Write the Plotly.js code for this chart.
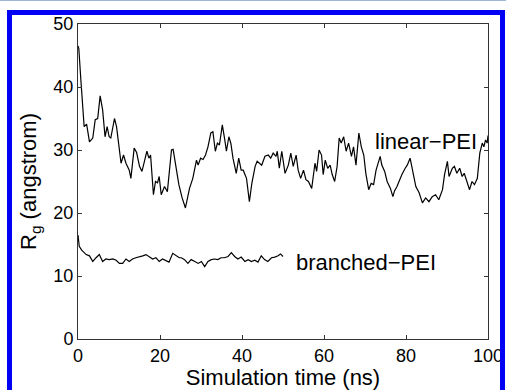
<!DOCTYPE html>
<html>
<head>
<meta charset="utf-8">
<script src="https://cdn.plot.ly/plotly-3.0.1.min.js"></script>
<style>
  html, body { margin: 0; padding: 0; background: #ffffff; overflow: hidden; }
  #wrap { position: relative; width: 506px; height: 390px; }
  #chart { position: absolute; left: 0; top: 0; width: 506px; height: 390px; }
  #topline { position: absolute; left: 0; top: 0; width: 506px; height: 1px; background: #9db8d6; pointer-events: none; }
  #frame { position: absolute; left: 7px; top: 10px; width: 498px; height: 400px; box-sizing: border-box;
           border: 5px solid #0000f5; border-bottom: none; pointer-events: none; }
</style>
</head>
<body>
<div id="wrap">
  <div id="chart"></div>
  <div id="topline"></div>
  <div id="frame"></div>
</div>
<script>
// Simulation time (ns) and radius of gyration (angstrom)
const tLinear = [
  0,0.2,0.7,1.5,2.1,2.8,3.6,4.2,4.8,5.4,
  6.0,6.6,7.1,7.6,8.0,8.9,9.4,10.5,11.1,11.7,
  12.5,12.9,13.7,14.3,15.0,15.6,16.2,16.8,17.3,17.7,
  18.4,18.9,19.4,19.8,20.3,21.1,21.8,22.8,23.2,23.7,
  24.6,25.4,26.2,27.2,28.0,28.9,29.3,29.9,30.5,31.1,
  31.7,32.4,32.9,33.5,34.0,34.5,35.2,35.8,36.2,36.8,
  37.3,37.8,38.6,39.2,39.8,40.3,41.1,41.8,42.4,43.2,
  43.7,44.8,45.6,46.4,47.0,47.6,48.3,48.6,49.1,49.7,
  50.5,51.3,51.9,52.5,53.2,53.7,54.3,55.0,55.6,56.2,
  57.0,57.8,58.2,58.8,59.4,59.8,60.3,60.9,61.5,62.0,
  62.6,63.2,63.7,64.2,64.8,65.4,66.0,66.7,67.2,67.8,
  68.5,69.1,69.7,70.2,70.9,71.5,72.1,72.7,73.3,73.7,
  74.1,74.8,75.4,76.2,76.8,77.2,77.8,78.4,79.0,79.8,
  80.3,81.0,81.5,82.4,83.2,84.0,84.8,85.6,86.4,87.2,
  88.0,88.9,89.4,90.1,90.5,91.3,91.8,92.4,93.1,93.7,
  94.2,94.9,95.5,96.1,96.7,97.4,98.0,98.6,99.0,99.4,
  99.8,100
];
const rgLinear = [
  46.5,46.1,41.1,33.7,34.1,31.3,31.9,34.8,35.0,38.6,
  36.4,32.1,33.7,32.1,31.9,35.0,33.7,27.9,29.2,27.9,
  26.8,25.5,30.3,29.6,27.4,26.6,28.2,29.8,28.7,29.2,
  22.9,25.0,24.8,25.8,22.9,24.2,23.4,30.0,30.1,27.9,
  24.5,22.4,20.8,23.9,25.5,28.4,27.6,28.7,28.5,29.2,
  30.5,32.7,32.9,29.8,31.1,30.8,34.0,31.6,29.8,32.1,
  31.0,28.7,26.3,28.7,26.8,26.8,25.5,21.8,24.7,27.4,
  28.2,27.6,29.0,29.2,28.7,29.5,29.0,29.8,27.1,29.8,
  26.3,27.6,29.5,27.4,29.2,26.8,25.5,26.8,25.3,25.0,
  23.9,27.9,26.6,30.0,29.2,26.1,28.4,27.1,27.6,26.1,
  25.0,27.4,31.9,31.1,32.1,29.8,31.1,29.0,30.5,27.6,
  32.7,30.5,29.2,26.3,23.7,24.7,24.5,26.8,28.2,29.0,
  27.6,26.6,25.0,23.9,22.6,23.5,24.2,25.3,26.1,27.1,
  27.6,28.7,27.1,24.2,23.2,21.6,22.4,21.8,22.6,22.9,
  22.1,23.7,26.1,28.2,25.8,27.1,27.4,26.3,27.1,25.8,
  26.3,24.7,23.7,25.0,24.5,25.5,29.5,31.1,30.5,31.6,
  31.1,32.3
];
const tBranched = [
  0,0.3,0.9,2.0,2.8,3.6,4.4,5.2,6.0,6.8,
  7.6,8.5,9.3,10.1,10.9,11.7,12.5,13.3,14.1,14.9,
  15.8,16.6,17.4,18.2,19.0,19.8,20.6,21.4,22.2,23.1,
  23.9,24.7,25.2,26.0,26.8,27.6,28.5,29.3,30.1,30.9,
  31.7,32.5,33.3,34.1,34.9,35.7,36.6,37.4,38.2,39.0,
  39.8,40.7,41.5,42.3,43.1,43.9,44.7,45.5,46.3,47.2,
  48.0,48.8,49.4,50.0
];
const rgBranched = [
  16.5,14.7,14.1,13.4,13.2,12.3,12.9,13.4,12.3,12.7,
  12.6,12.7,12.5,12.0,12.0,12.7,12.3,12.7,12.9,13.0,
  13.2,13.4,13.0,12.7,12.9,12.3,12.7,12.5,12.2,13.6,
  13.2,12.9,12.9,12.6,12.0,12.6,12.3,12.0,12.3,11.5,
  12.3,12.6,12.7,12.6,12.9,12.9,13.1,13.7,13.1,12.7,
  13.0,12.3,12.6,12.3,12.5,12.2,13.2,12.6,12.3,12.9,
  13.0,13.2,13.5,13.1
];
const xTicks = [0, 20, 40, 60, 80, 100];
const yTicks = [0, 10, 20, 30, 40, 50];
const seriesLabels = ["linear\u2212PEI", "branched\u2212PEI"];

const FONT = "Liberation Sans, Arial, Helvetica, sans-serif";

const data = [
  { x: tLinear, y: rgLinear, type: "scatter", mode: "lines",
    line: { color: "#000000", width: 1.2 }, name: seriesLabels[0], showlegend: false },
  { x: tBranched, y: rgBranched, type: "scatter", mode: "lines",
    line: { color: "#000000", width: 1.2 }, name: seriesLabels[1], showlegend: false }
];

const axisCommon = {
  showgrid: false, zeroline: false, showline: true, linecolor: "#333333", linewidth: 1,
  mirror: "ticks", ticks: "inside", ticklen: 4, tickcolor: "#333333", tickwidth: 1,
  tickfont: { family: FONT, size: 18, color: "#000000" }
};

const layout = {
  width: 506, height: 390,
  margin: { l: 78, r: 18, t: 24, b: 51 },
  paper_bgcolor: "#ffffff", plot_bgcolor: "#ffffff",
  font: { family: FONT, color: "#000000" },
  xaxis: Object.assign({}, axisCommon, {
    range: [0, 100], tickvals: xTicks, ticktext: xTicks.map(String),
    title: { text: "Simulation time (ns)", font: { family: FONT, size: 22, color: "#000000" }, standoff: 6 }
  }),
  yaxis: Object.assign({}, axisCommon, {
    range: [0, 50], tickvals: yTicks, ticktext: yTicks.map(String),
    title: { text: "R<sub>g</sub> (angstrom)", font: { family: FONT, size: 22, color: "#000000" }, standoff: 10 }
  }),
  annotations: [
    { x: 72.0, y: 31.3, xref: "x", yref: "y", text: seriesLabels[0], showarrow: false,
      xanchor: "left", yanchor: "middle", font: { family: FONT, size: 22, color: "#000000" } },
    { x: 52.7, y: 12.1, xref: "x", yref: "y", text: seriesLabels[1], showarrow: false,
      xanchor: "left", yanchor: "middle", font: { family: FONT, size: 22, color: "#000000" } }
  ]
};

Plotly.newPlot("chart", data, layout, { displayModeBar: false, staticPlot: true });
</script>
</body>
</html>
